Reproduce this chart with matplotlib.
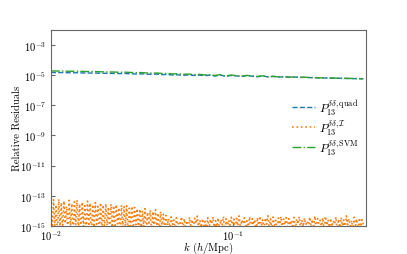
import numpy as np
import matplotlib
matplotlib.use('Agg')
import matplotlib.pyplot as plt
from matplotlib.ticker import NullLocator

plt.rcParams['font.family'] = 'serif'
plt.rcParams['font.serif'] = ['cmr10', 'DejaVu Serif']
plt.rcParams['mathtext.fontset'] = 'cm'
plt.rcParams['axes.formatter.use_mathtext'] = True
plt.rcParams['font.size'] = 8

# residuals
quad_res = [1.45e-5, 1.42e-5, 1.44e-5, 1.40e-5, 1.38e-5, 1.39e-5, 1.35e-5, 1.33e-5, 1.34e-5, 1.30e-5,
            1.28e-5, 1.27e-5, 1.25e-5, 1.22e-5, 1.24e-5, 1.19e-5, 1.15e-5, 1.18e-5, 1.12e-5, 1.09e-5,
            1.13e-5, 1.04e-5, 1.06e-5, 0.98e-5, 1.02e-5, 0.95e-5, 0.99e-5, 0.93e-5, 0.97e-5, 0.90e-5,
            0.95e-5, 0.84e-5, 0.98e-5, 0.80e-5, 0.92e-5, 0.86e-5, 0.78e-5, 0.90e-5, 0.82e-5, 0.76e-5,
            0.85e-5, 0.74e-5, 0.79e-5, 0.72e-5, 0.75e-5, 0.70e-5, 0.72e-5, 0.68e-5, 0.69e-5, 0.66e-5,
            0.65e-5, 0.63e-5, 0.62e-5, 0.61e-5, 0.60e-5, 0.59e-5, 0.58e-5, 0.57e-5, 0.56e-5, 0.55e-5]

svm_res = [1.85e-5, 1.80e-5, 1.83e-5, 1.76e-5, 1.74e-5, 1.77e-5, 1.70e-5, 1.67e-5, 1.69e-5, 1.62e-5,
           1.60e-5, 1.57e-5, 1.54e-5, 1.50e-5, 1.52e-5, 1.45e-5, 1.40e-5, 1.43e-5, 1.35e-5, 1.31e-5,
           1.34e-5, 1.24e-5, 1.26e-5, 1.16e-5, 1.20e-5, 1.10e-5, 1.14e-5, 1.05e-5, 1.09e-5, 1.00e-5,
           1.04e-5, 0.92e-5, 1.05e-5, 0.86e-5, 0.97e-5, 0.90e-5, 0.82e-5, 0.93e-5, 0.85e-5, 0.79e-5,
           0.87e-5, 0.76e-5, 0.81e-5, 0.74e-5, 0.77e-5, 0.72e-5, 0.73e-5, 0.69e-5, 0.70e-5, 0.67e-5,
           0.66e-5, 0.64e-5, 0.63e-5, 0.62e-5, 0.61e-5, 0.60e-5, 0.59e-5, 0.58e-5, 0.57e-5, 0.56e-5]

interp_res = [4e-14, 3e-16, 5.5e-14, 1e-15, 2.5e-14, 2e-16, 6e-14, 7e-16, 3.5e-14, 4e-16,
              4.5e-14, 1.5e-15, 2e-14, 3e-16, 5e-14, 8e-16, 3e-14, 2e-16, 4e-14, 1.2e-15,
              5.2e-14, 5e-16, 2.8e-14, 3e-16, 3.8e-14, 9e-16, 2.2e-14, 4e-16, 4.4e-14, 1e-15,
              3.2e-14, 2e-16, 2.6e-14, 6e-16, 3.6e-14, 1.3e-15, 2e-14, 3e-16, 3.4e-14, 7e-16,
              2.4e-14, 5e-16, 3e-14, 1.1e-15, 1.8e-14, 3e-16, 2.8e-14, 8e-16, 2.2e-14, 4e-16,
              2.6e-14, 1.4e-15, 1.6e-14, 2e-16, 2.4e-14, 6e-16, 1.9e-14, 1e-15, 2.2e-14, 3e-16,
              1.5e-14, 7e-16, 2e-14, 4e-16, 1.7e-14, 1.2e-15, 1.4e-14, 5e-16,
              1.3e-14, 3e-16, 1e-14, 9e-16, 1.4e-14, 4e-16, 8e-15, 1.2e-15, 1.1e-14, 2e-16,
              9e-15, 6e-16, 1.2e-14, 1e-15, 7e-15, 3e-16, 9e-15, 8e-16, 6e-15, 5e-16, 5e-15, 1.1e-15,
              3e-15, 6e-16, 4e-15, 1.2e-15, 2.5e-15, 4e-16, 3.5e-15, 8e-16, 2e-15, 1.5e-15,
              4e-15, 5e-16, 3e-15, 9e-16, 2.2e-15, 3e-16, 3.8e-15, 1.1e-15, 2.6e-15, 6e-16,
              3.2e-15, 1.4e-15, 4.5e-15, 5e-16, 2.4e-15, 8e-16, 3e-15, 1e-15, 2e-15, 4e-16,
              3.6e-15, 7e-16, 2.8e-15, 1.3e-15, 4e-15, 6e-16, 2.2e-15, 9e-16, 3.4e-15, 5e-16,
              2.6e-15, 1.2e-15, 4.2e-15, 3e-16, 3e-15, 8e-16, 2.4e-15, 1.1e-15, 3.8e-15, 6e-16,
              2.8e-15, 4e-16, 3.2e-15, 1e-15, 4.6e-15, 7e-16, 2.5e-15, 1.4e-15, 3.5e-15, 5e-16,
              2.2e-15, 9e-16, 4e-15, 6e-16, 3e-15, 1.2e-15, 2.7e-15, 4e-16, 3.6e-15, 8e-16,
              4.4e-15, 1e-15, 2.6e-15, 5e-16, 3.3e-15, 1.3e-15, 4.8e-15, 7e-16, 2.9e-15, 6e-16,
              3.9e-15, 1.1e-15, 2.4e-15, 4e-16, 3.4e-15, 9e-16, 4.2e-15, 5e-16, 2.8e-15, 1.2e-15,
              3.6e-15, 6e-16, 3e-15, 1.1e-15, 2.3e-15, 7e-16, 3.7e-15, 4e-16, 2.9e-15, 1.3e-15,
              4.1e-15, 5e-16, 2.5e-15, 9e-16, 3.3e-15, 1.2e-15, 2.1e-15, 6e-16, 3.9e-15, 8e-16,
              2.7e-15, 1e-15, 4.5e-15, 4e-16, 3.1e-15, 1.4e-15, 2.4e-15, 7e-16, 3.5e-15, 5e-16,
              4.3e-15, 1.1e-15, 2.6e-15, 6e-16, 3.2e-15, 9e-16, 2.2e-15, 1.3e-15, 4e-15, 4e-16,
              2.8e-15, 8e-16, 3.6e-15, 1e-15, 2.5e-15, 5e-16, 4.7e-15, 1.2e-15, 3e-15, 7e-16,
              2.3e-15, 6e-16, 3.8e-15, 1.1e-15, 2.9e-15, 4e-16, 3.4e-15, 9e-16, 2.6e-15, 1.2e-15]

k_min, k_max = 0.01, 0.52
k_smooth = np.geomspace(k_min, k_max, len(quad_res))
k_noisy = np.geomspace(k_min, k_max, len(interp_res))

fig = plt.figure(figsize=(4.07, 2.55), dpi=100)
ax = fig.add_subplot(111)

ax.loglog(k_smooth, quad_res, '--', color='tab:blue', lw=1.0,
          label=r'$P_{13}^{\delta\delta,\mathrm{quad}}$')
ax.loglog(k_noisy, interp_res, ':', color='tab:orange', lw=1.2,
          label=r'$P_{13}^{\delta\delta,\mathcal{I}}$')
ax.loglog(k_smooth, svm_res, '-.', color='tab:green', lw=1.0,
          label=r'$P_{13}^{\delta\delta,\mathrm{SVM}}$')

ax.set_xlim(k_min, 0.54)
ax.set_ylim(1e-15, 1e-2)
ax.set_yticks([1e-15, 1e-13, 1e-11, 1e-9, 1e-7, 1e-5, 1e-3])
ax.set_xticks([1e-2, 1e-1])
ax.xaxis.set_minor_locator(NullLocator())
ax.yaxis.set_minor_locator(NullLocator())

for s in ax.spines.values():
    s.set_color('0.4')
ax.tick_params(direction='in', colors='0.4', labelcolor='black', labelsize=7.6, length=3)
ax.tick_params(axis='y', pad=3.5)
ax.tick_params(axis='x', pad=1.5)

ax.set_xlabel(r'$k$ ($h$/Mpc)', fontsize=7.7)
ax.set_ylabel('Relative Residuals', fontsize=7.7)
ax.xaxis.set_label_coords(0.5, -0.07)
ax.yaxis.set_label_coords(-0.092, 0.5)
ax.legend(loc='center right', frameon=False, fontsize=8.5, handlelength=1.9,
          handletextpad=0.4, bbox_to_anchor=(1.0, 0.505), labelspacing=0.05,
          borderaxespad=0.2)

fig.savefig('out.png', dpi=100)
